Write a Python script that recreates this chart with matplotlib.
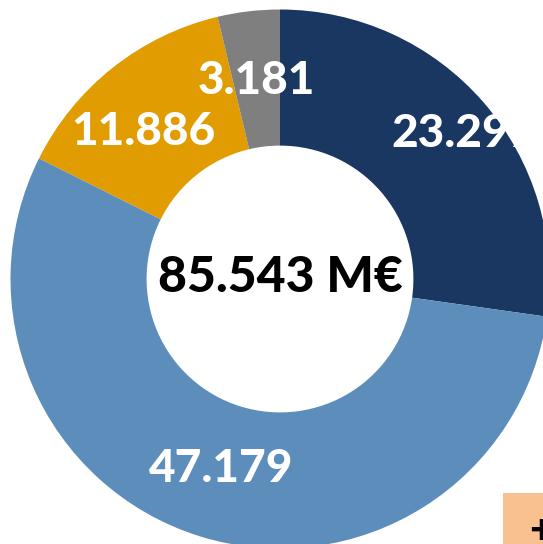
import matplotlib
matplotlib.use("Agg")
import matplotlib.pyplot as plt
import numpy as np
from matplotlib.patches import Rectangle

values = [23.297, 47.179, 11.886, 3.181]
labels = ["23.297", "47.179", "11.886", "3.181"]
colors = ["#1A3761", "#5D8DBB", "#E09C00", "#7F7F7F"]
total_label = "85.543 M€"

W, H = 543, 544
fig = plt.figure(figsize=(W / 100, H / 100), dpi=100)
ax = fig.add_axes([0, 0, 1, 1])

cx, cy, R = 280, H - 279, 269.5
wedges, _ = ax.pie(values, colors=colors, startangle=90, counterclock=False,
                   center=(cx, cy), radius=R, frame=True,
                   wedgeprops=dict(width=R * 0.505, edgecolor="none"))

font = dict(family=["Lato", "DejaVu Sans"], fontweight="black")
total = sum(values)
start = 90.0
dist = [0.87, 0.737, 0.745, 0.74]
ang_off = [-2.7, 0.0, 4.5, 0.0]
for v, lab, d, off, w in zip(values, labels, dist, ang_off, wedges):
    ang = np.deg2rad(start - v / total * 360 / 2 + off)
    start -= v / total * 360
    x = cx + d * R * np.cos(ang)
    y = cy + d * R * np.sin(ang)
    t = ax.text(x, y, lab, color="white", fontsize=33, ha="center",
                va="center", **font)
    t.set_clip_path(w)

ax.text(cx, cy + 2, total_label, color="black", fontsize=36, ha="center",
        va="center", **font)

ax.add_patch(Rectangle((503, -10), 60, H - 493 + 10, facecolor="#F9C18F",
                       edgecolor="none"))
ax.text(541, H - 531, "+", color="black", fontsize=30, ha="center",
        va="center", **font)

ax.set_xlim(0, W)
ax.set_ylim(0, H)
ax.set_aspect("auto")
ax.axis("off")
fig.savefig("out.png", dpi=100)
